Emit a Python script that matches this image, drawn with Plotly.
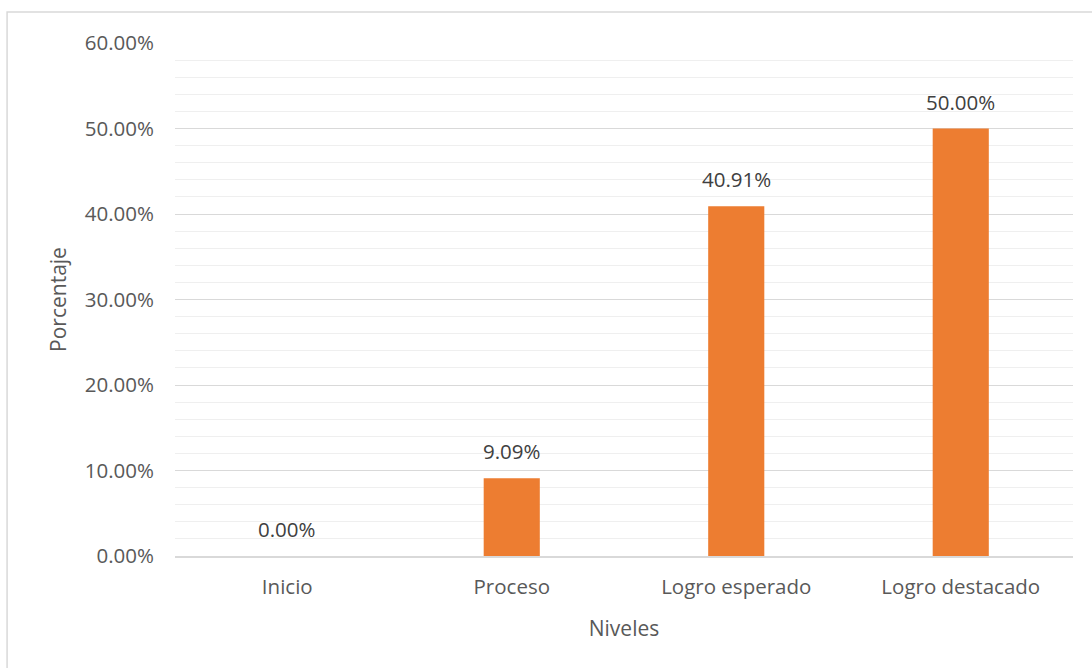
import plotly.graph_objects as go

categories = ["Inicio", "Proceso", "Logro esperado", "Logro destacado"]
values = [0.0, 0.0909, 0.4091, 0.50]
y_ticks = [0, 0.1, 0.2, 0.3, 0.4, 0.5, 0.6]
y_tick_labels = ["0.00%", "10.00%", "20.00%", "30.00%", "40.00%", "50.00%", "60.00%"]

FONT = "Open Sans"
GRAY = "#595959"
FS = 20.5

fig = go.Figure()
fig.add_trace(go.Bar(
    x=categories, y=values,
    marker=dict(color="#ED7D31", line=dict(width=0)),
    width=0.25,
    hoverinfo="skip",
))

for c, v in zip(categories, values):
    fig.add_annotation(
        x=c, y=v, xref="x", yref="y",
        text=f"{v*100:.2f}%", showarrow=False,
        yanchor="bottom", yshift=11,
        font=dict(family=FONT, size=FS, color="#404040"),
    )

# outer chart border
fig.add_shape(type="rect", xref="paper", yref="paper",
              x0=-0.187, x1=1.05, y0=-0.4, y1=1.0604,
              line=dict(color="#d9d9d9", width=1.5), layer="below")

fig.update_layout(
    width=1092, height=668,
    margin=dict(l=175, r=19, t=43, b=112),
    paper_bgcolor="white", plot_bgcolor="white",
    showlegend=False,
    font=dict(family=FONT, size=FS, color=GRAY),
    xaxis=dict(
        showgrid=False, showline=True, linecolor="#d9d9d9", linewidth=1.5,
        ticks="", tickfont=dict(family=FONT, size=FS, color=GRAY),
        ticklabelstandoff=12,
        title=dict(text="Niveles", font=dict(family=FONT, size=21, color=GRAY), standoff=22),
        fixedrange=True,
    ),
    yaxis=dict(
        range=[0, 0.6],
        tickvals=y_ticks, ticktext=y_tick_labels,
        showgrid=True, gridcolor="#d9d9d9", gridwidth=1.2,
        zeroline=False, showline=False,
        ticks="", ticklabelstandoff=20,
        tickfont=dict(family=FONT, size=FS, color=GRAY),
        minor=dict(dtick=0.02, tick0=0, showgrid=True, gridcolor="#efefef", gridwidth=1.2),
        title=dict(text="Porcentaje", font=dict(family=FONT, size=21, color=GRAY), standoff=12),
        fixedrange=True,
    ),
)

fig.write_html("out.html")
